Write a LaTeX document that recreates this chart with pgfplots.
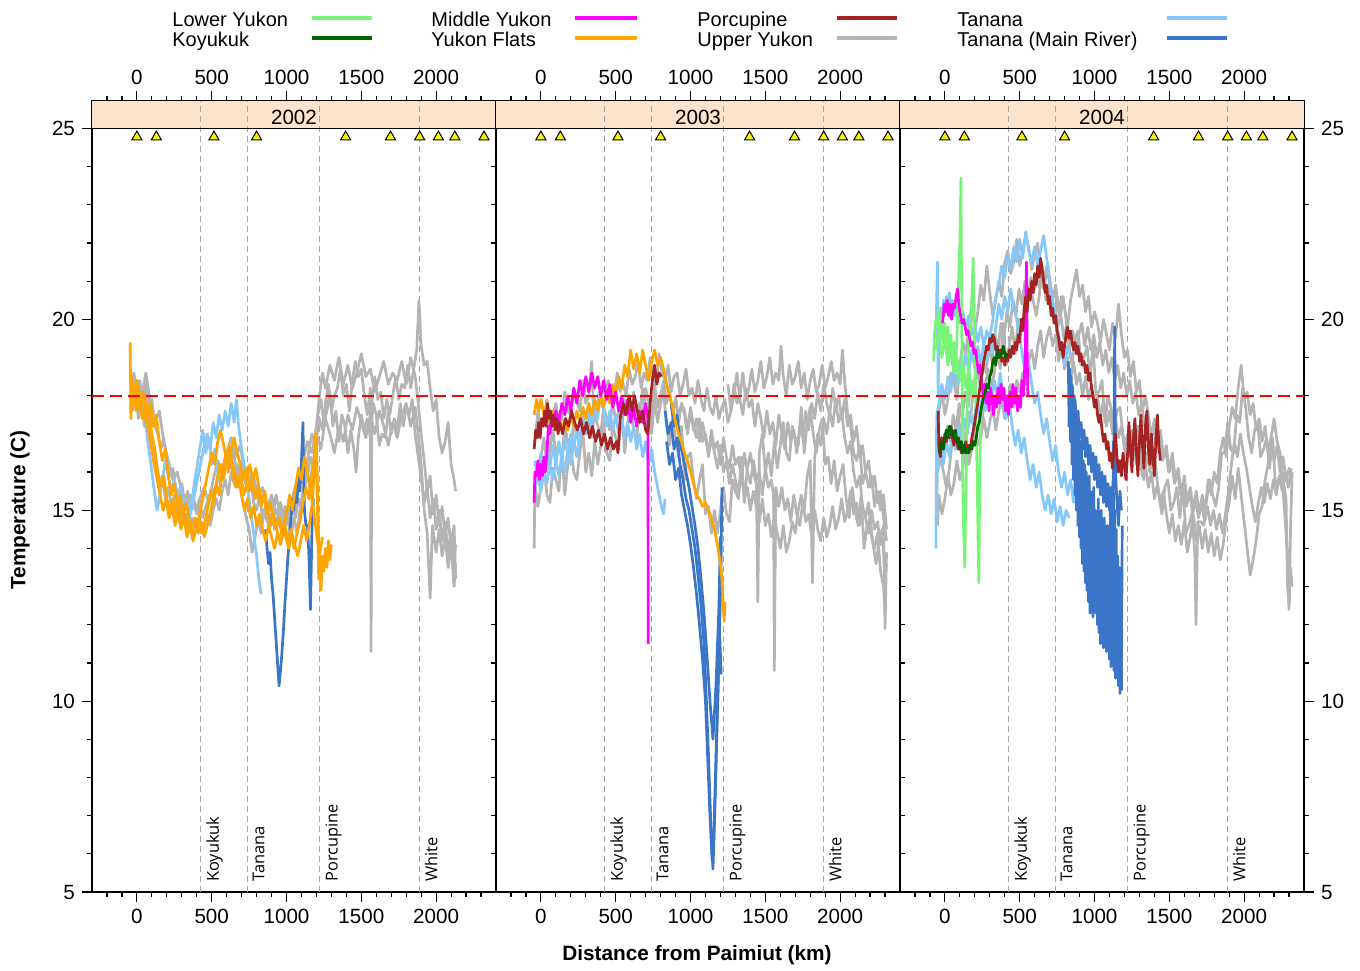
\documentclass[border=0pt]{standalone}
\usepackage{pgfplots}
\pgfplotsset{compat=1.18}
\usepackage{fontspec}
\setmainfont{Liberation Sans}
\newfontfamily\tribfont{Open Sans}
\definecolor{lowyukon}{RGB}{120,245,120}
\definecolor{koyukuk}{RGB}{0,100,0}
\definecolor{midyukon}{RGB}{255,0,255}
\definecolor{yflats}{RGB}{255,165,0}
\definecolor{porc}{RGB}{165,35,35}
\definecolor{upyukon}{RGB}{180,180,180}
\definecolor{tanana}{RGB}{135,200,250}
\definecolor{tanmain}{RGB}{58,117,200}
\definecolor{stripfill}{RGB}{252,228,204}
\definecolor{tribgray}{RGB}{165,165,165}
\tikzset{
 dl/.style={line width=1.35pt, line join=round},
 gy/.style={dl, color=upyukon},
 lb/.style={dl, color=tanana},
 db/.style={dl, color=tanmain},
 og/.style={dl, color=yflats},
 mg/.style={dl, color=midyukon},
 lg/.style={dl, color=lowyukon},
 pr/.style={dl, color=porc},
 kg/.style={dl, color=koyukuk},
}
\newcommand\tickfont{\fontsize{10.3}{12}\selectfont}
\pgfplotsset{
 panel/.style={
  anchor=south west, scale only axis, width=202pt, height=395.5pt,
  xmin=-300, xmax=2400, ymin=5, ymax=25.72,
  xtick={0,500,1000,1500,2000}, xticklabels={0,500,1000,1500,2000},
  minor xtick={-200,-100,...,2300},
  ytick={5,10,15,20,25}, yticklabels={5,10,15,20,25},
  minor ytick={6,...,24},
  tick align=outside, xtick pos=both, xticklabel pos=lower,
  major tick length=5pt, minor tick length=2.5pt,
  axis line style={line width=0.8pt},
  every tick/.style={black, line width=0.6pt},
  tick label style={font=\tickfont},
 },
 toplab/.style={
  anchor=south west, scale only axis, width=202pt, height=395.5pt,
  xmin=-300, xmax=2400, ymin=5, ymax=25.72,
  xtick={0,500,1000,1500,2000}, xticklabels={0,500,1000,1500,2000},
  xticklabel pos=upper, ytick=\empty, axis line style={draw=none},
  major tick length=0pt, minor tick num=0,
  tick label style={font=\tickfont},
  xticklabel style={yshift=4.5pt},
 },
}
\newcommand\trib[2]{\node[rotate=90, anchor=north west, inner sep=0pt, font=\tribfont\fontsize{8.2}{9}\selectfont] at ([xshift=2.6pt]axis cs:#1,5.26) {#2};}
\newcommand\panelbg[1]{%
 \fill[stripfill] (axis cs:-300,25) rectangle (axis cs:2400,25.72);
 \node[font=\tickfont] at (axis cs:1050,25.29) {#1};
 \addplot[tribgray, line width=0.5pt, dash pattern=on 3pt off 2pt] coordinates {(427,5) (427,25.72)};
 \addplot[tribgray, line width=0.5pt, dash pattern=on 3pt off 2pt] coordinates {(737,5) (737,25.72)};
 \addplot[tribgray, line width=0.5pt, dash pattern=on 3pt off 2pt] coordinates {(1223,5) (1223,25.72)};
 \addplot[tribgray, line width=0.5pt, dash pattern=on 3pt off 2pt] coordinates {(1887,5) (1887,25.72)};
 \draw[black, line width=0.8pt] (axis cs:-300,25) -- (axis cs:2400,25);
 \trib{427}{Koyukuk}\trib{737}{Tanana}\trib{1223}{Porcupine}\trib{1887}{White}
 \addplot[only marks, mark=triangle*, mark size=2.9pt, mark options={fill=yellow, draw=black, line width=0.5pt}] coordinates {(0,24.78) (130,24.78) (515,24.78) (800,24.78) (1395,24.78) (1695,24.78) (1890,24.78) (2015,24.78) (2125,24.78) (2320,24.78)};
}
\newcommand\redline{\addplot[red, line width=1pt, dash pattern=on 6pt off 3pt] coordinates {(-300,18) (2400,18)};}
\begin{document}
\begin{tikzpicture}
\useasboundingbox (0,0) rectangle (680pt,-485pt);
% ================= 2002 =================
\begin{axis}[panel, at={(46pt,-446pt)}, ytick pos=left]
\panelbg{2002}
\addplot[gy] coordinates {(-40,18.2) (-20,18.6) (0,18.0) (20,18.4) (40,17.8) (60,18.3) (80,17.6) (100,17.9) (120,17.2) (140,17.0) (160,16.6) (180,16.9) (200,16.2) (220,15.9) (240,16.1) (260,15.6) (280,15.4) (300,15.7) (320,15.2) (340,15.5) (360,15.0) (380,15.3) (400,14.9) (420,15.2) (440,14.8) (460,15.1) (480,15.3) (500,15.6) (520,15.4) (540,15.9) (560,16.2) (580,15.8) (600,16.4) (620,16.1) (640,16.6) (660,16.2) (680,15.9) (700,16.3) (720,15.8) (740,15.5) (760,15.9) (780,15.2) (800,15.0) (820,15.4) (840,14.8) (860,15.1) (880,14.6) (900,14.9) (920,14.5) (940,14.8) (960,15.2) (980,14.7) (1000,15.0) (1020,14.6) (1040,15.1) (1060,14.8) (1080,15.3) (1100,15.0) (1120,15.6) (1140,15.9) (1160,16.4) (1180,16.1) (1200,16.9) (1220,17.4) (1240,17.1) (1260,17.8) (1280,18.3) (1300,17.6) (1320,18.0) (1340,18.2) (1360,18.7) (1380,18.0) (1400,18.3) (1420,17.6) (1440,18.4) (1460,18.9) (1480,18.5) (1500,18.7) (1520,18.0) (1540,17.5) (1560,18.2) (1565,11.3) (1570,17.8) (1590,18.5) (1610,17.9) (1630,18.1) (1650,17.4) (1670,17.9) (1690,17.5) (1710,18.0) (1730,18.5) (1750,17.9) (1770,18.3) (1790,18.2) (1810,18.8) (1830,18.2) (1850,18.7) (1870,19.2) (1885,20.5) (1900,19.3) (1920,18.8) (1940,18.9) (1960,18.2) (1980,17.6) (2000,17.9) (2020,16.9) (2040,16.5) (2060,16.8) (2080,17.3) (2100,16.2) (2120,15.8) (2130,15.5)};
\addplot[gy] coordinates {(-30,17.6) (-10,18.1) (10,17.4) (30,17.9) (50,17.2) (70,17.6) (90,16.9) (110,16.5) (130,16.0) (150,15.6) (170,15.9) (190,15.3) (210,15.6) (230,15.1) (250,15.4) (270,14.9) (290,15.2) (310,14.7) (330,14.9) (350,14.6) (370,14.8) (390,14.5) (410,14.7) (430,14.4) (450,14.6) (470,14.9) (490,14.6) (510,15.0) (530,15.3) (550,15.0) (570,15.5) (590,15.8) (610,15.4) (630,16.0) (650,15.7) (670,16.2) (690,15.6) (710,15.2) (730,14.8) (750,14.5) (770,13.9) (790,14.3) (810,14.8) (830,14.4) (850,15.0) (870,14.7) (890,15.3) (910,14.9) (930,15.4) (950,15.0) (970,14.6) (990,15.1) (1010,14.7) (1030,14.3) (1050,14.8) (1070,14.4) (1090,15.0) (1110,15.5) (1130,16.0) (1150,16.6) (1170,17.0) (1190,16.7) (1210,17.5) (1230,17.9) (1250,17.3) (1270,17.6) (1290,18.1) (1310,17.2) (1330,17.6) (1350,16.8) (1370,17.5) (1390,17.2) (1410,16.5) (1430,17.1) (1450,16.6) (1465,16.0) (1480,16.9) (1500,17.5) (1520,17.1) (1540,17.4) (1560,16.9) (1580,17.8) (1600,17.5) (1620,16.7) (1640,17.0) (1660,16.9) (1680,17.6) (1700,17.0) (1720,17.4) (1740,17.1) (1760,17.8) (1780,17.2) (1800,17.7) (1820,17.5) (1840,17.9) (1860,17.0) (1880,16.4) (1900,15.8) (1920,15.2) (1940,15.6) (1960,14.8) (1980,15.3) (2000,14.5) (2020,15.0) (2040,14.2) (2060,14.7) (2080,13.9) (2100,14.4) (2120,13.6) (2130,14.1)};
\addplot[gy] coordinates {(0,18.4) (30,17.9) (60,18.6) (90,17.8) (120,17.3) (150,17.6) (180,16.8) (210,16.3) (240,15.8) (270,16.0) (300,15.5) (330,15.1) (360,15.4) (390,15.0) (420,15.3) (450,15.6) (480,15.2) (510,15.8) (540,16.3) (570,16.0) (600,16.5) (630,16.9) (660,16.4) (690,16.7) (720,16.0) (750,15.6) (780,15.9) (810,15.3) (840,15.6) (870,15.0) (900,15.4) (930,14.9) (960,15.2) (990,14.6) (1020,15.0) (1050,15.5) (1080,15.9) (1110,16.3) (1140,16.8) (1170,16.5) (1200,17.2) (1220,18.0) (1240,18.6) (1260,18.2) (1290,18.8) (1320,18.4) (1350,19.0) (1380,18.3) (1410,18.8) (1440,18.2) (1470,18.6) (1500,19.1) (1530,18.5) (1560,18.7) (1590,18.1) (1620,18.5) (1650,18.9) (1680,18.3) (1710,18.6) (1740,18.4) (1770,18.9) (1800,18.3) (1830,19.0) (1860,18.5) (1880,17.8) (1900,17.0) (1920,16.3) (1940,15.5) (1960,15.9) (1980,14.9) (2000,15.4) (2020,14.6) (2040,15.1) (2060,14.3) (2080,14.8) (2100,14.0) (2120,14.6) (2130,13.2)};
\addplot[gy] coordinates {(1150,15.6) (1180,16.3) (1200,17.0) (1230,16.6) (1260,17.4) (1290,17.0) (1320,16.5) (1350,17.2) (1380,16.8) (1410,17.5) (1440,17.1) (1470,17.7) (1500,17.3) (1530,16.9) (1560,17.5) (1590,17.0) (1620,17.6) (1650,17.2) (1680,16.7) (1710,17.3) (1740,16.9) (1770,17.5) (1800,17.8) (1830,17.2) (1860,17.7) (1880,17.0) (1900,16.2) (1920,15.0) (1940,14.4) (1960,12.7) (1975,14.6) (2000,13.9) (2020,14.5) (2040,13.8) (2060,14.3) (2080,13.5) (2100,14.1) (2120,13.0) (2130,13.6)};
\addplot[lb] coordinates {(-40,18.3) (-20,17.8) (0,18.1) (20,17.5) (40,17.8) (60,17.2) (80,16.6) (100,16.0) (120,15.4) (135,15.0) (150,15.3) (170,15.8) (190,16.3) (210,15.9) (230,15.5) (250,15.8) (270,15.3) (290,15.6) (310,15.0) (330,15.3) (350,14.8) (370,15.1) (390,15.5) (410,15.9) (430,16.3) (450,16.7) (470,17.0) (490,16.6) (510,17.3) (530,16.9) (550,17.5) (570,17.1) (590,17.6) (610,17.2) (630,17.8) (650,17.3) (665,17.9) (680,17.2) (700,16.6) (720,16.1) (740,15.6) (760,15.0) (780,14.4) (800,13.8) (815,13.2) (830,12.8)};
\addplot[lb] coordinates {(360,15.0) (380,15.6) (400,16.1) (420,16.6) (440,17.1) (460,16.5) (480,16.9) (500,16.2) (520,16.6) (540,16.0) (560,15.6)};
\addplot[db] coordinates {(860,14.5) (870,14.0) (880,13.6) (890,13.9) (900,13.2) (910,12.8) (920,12.2) (930,11.6) (940,11.0) (950,10.4) (960,10.8) (970,11.3) (980,11.9) (990,12.6) (1000,13.2) (1010,13.8) (1020,14.3) (1030,14.8) (1040,15.3) (1050,15.0) (1060,15.6) (1070,15.2) (1080,16.0) (1090,15.5) (1100,16.3) (1110,17.3) (1115,15.8) (1120,15.0) (1130,14.6) (1140,14.6) (1150,13.8) (1160,12.4) (1170,14.5) (1180,15.3)};
\addplot[og] coordinates {(-45,19.4) (-40,17.4) (-30,18.3) (-10,17.8) (10,18.2) (30,17.7) (50,18.0) (70,17.5) (90,17.8) (110,17.2) (130,17.5) (150,16.8) (170,16.3) (190,16.6) (210,15.9) (230,15.4) (250,15.7) (270,15.1) (290,15.4) (310,14.9) (330,15.2) (350,14.7) (370,14.5) (390,14.8) (410,14.4) (430,14.7) (450,14.3) (470,14.6) (490,14.9) (510,15.3) (530,15.7) (550,15.4) (570,16.0) (590,16.4) (610,16.0) (630,16.6) (650,16.9) (670,16.5) (690,16.2) (710,15.8) (730,16.1) (750,15.5) (770,15.8) (790,15.3) (810,15.6) (830,15.1) (850,15.4) (870,14.9) (890,15.2) (910,14.8) (930,14.5) (950,14.8) (970,14.3) (990,14.6) (1010,14.2) (1030,14.5) (1050,14.0) (1070,14.4) (1090,14.7) (1110,15.2) (1130,15.6) (1150,15.3) (1170,15.9) (1190,16.5) (1200,16.9) (1210,15.0) (1220,13.5) (1230,12.9) (1240,13.8) (1250,13.4) (1260,14.0) (1270,13.5) (1280,14.2) (1290,13.7) (1300,14.1)};
\addplot[og] coordinates {(-40,18.6) (-20,17.9) (0,18.4) (20,17.6) (40,18.1) (60,17.3) (80,17.7) (100,17.0) (120,16.6) (140,16.0) (160,15.6) (180,15.9) (200,15.3) (220,15.0) (240,15.3) (260,14.8) (280,15.1) (300,14.6) (320,14.9) (340,14.4) (360,14.7) (380,14.3) (400,14.6) (420,14.9) (440,15.3) (460,15.7) (480,16.1) (500,16.5) (520,16.2) (540,16.8) (560,17.1) (580,16.7) (600,16.3) (620,16.6) (640,16.0) (660,15.6) (680,15.9) (700,15.4) (720,15.0) (740,15.3) (760,14.8) (780,15.1) (800,14.6) (820,14.9) (840,14.5) (860,14.2) (880,14.6) (900,14.3) (920,14.0) (940,14.4) (960,14.1) (980,14.5) (1000,14.9) (1020,15.4) (1040,15.0) (1060,15.6) (1080,16.1) (1100,15.8) (1120,16.4) (1140,16.0) (1160,15.5) (1180,15.0) (1200,14.4) (1220,13.8) (1240,14.3)};
\addplot[og] coordinates {(-45,17.9) (-25,18.3) (-5,17.6) (15,18.0) (35,17.4) (55,17.7) (75,17.1) (95,16.7) (115,16.2) (135,15.8) (155,15.4) (175,15.0) (195,15.3) (215,14.8) (235,15.1) (255,14.6) (275,14.9) (295,14.5) (315,14.8) (335,14.3) (355,14.6) (375,14.2) (395,14.5) (415,14.8) (435,14.4) (455,14.7) (475,15.1) (495,15.5) (515,15.2) (535,15.8) (555,16.2) (575,15.8) (595,16.3) (615,16.7) (635,16.3) (655,16.0) (675,15.6) (695,15.9) (715,15.4) (735,15.7) (755,16.2) (775,15.8) (795,16.1) (815,15.6) (835,15.2) (855,15.5) (875,15.0) (895,14.6) (915,14.9) (935,14.5) (955,14.2) (975,14.6) (995,14.3) (1015,14.0) (1035,14.4) (1055,14.1) (1075,13.8) (1095,14.2) (1115,14.6) (1135,14.2) (1155,14.7) (1175,15.3) (1195,17.0) (1205,15.5) (1215,13.2) (1230,13.8)};
\redline
\end{axis}
\begin{axis}[toplab, at={(46pt,-446pt)}]
\end{axis}
% ================= 2003 =================
\begin{axis}[panel, at={(248pt,-446pt)}, ymajorticks=false, yminorticks=false]
\panelbg{2003}
\addplot[gy] coordinates {(-40,16.8) (-20,17.6) (0,17.2) (20,17.4) (40,17.9) (60,17.1) (80,17.5) (100,17.8) (120,17.3) (140,17.4) (160,18.1) (180,17.6) (200,17.5) (220,18.2) (240,17.9) (260,17.6) (280,18.4) (300,17.8) (320,18.0) (340,18.9) (350,17.8) (370,17.5) (390,18.1) (410,17.7) (430,17.9) (450,18.4) (470,17.8) (490,18.0) (510,18.6) (530,18.1) (550,18.3) (570,18.0) (590,18.7) (610,18.3) (630,18.5) (650,18.9) (670,18.2) (690,18.6) (710,18.4) (730,19.0) (750,18.5) (770,18.3) (790,19.1) (810,18.6) (830,18.4) (850,18.8) (870,18.1) (890,18.5) (910,18.6) (930,18.0) (950,18.3) (970,18.7) (990,18.0) (1010,18.2) (1030,17.8) (1050,18.4) (1070,17.9) (1090,17.6) (1110,18.2) (1130,17.7) (1150,17.5) (1170,18.0) (1190,17.4) (1210,17.7) (1230,17.9) (1250,17.3) (1270,17.6) (1290,18.3) (1310,17.8) (1330,18.0) (1350,18.6) (1370,17.9) (1390,18.2) (1410,18.7) (1430,18.1) (1450,18.4) (1470,18.9) (1490,18.2) (1510,18.5) (1530,19.0) (1550,18.3) (1570,18.6) (1590,18.4) (1605,19.3) (1620,18.5) (1640,18.0) (1660,18.8) (1680,18.3) (1700,18.5) (1720,18.9) (1740,18.2) (1760,18.6) (1780,17.9) (1800,18.4) (1820,18.7) (1840,18.1) (1860,18.3) (1880,18.8) (1900,18.2) (1920,18.5) (1940,18.9) (1960,18.4) (1980,18.6) (2000,18.3) (2015,19.2) (2030,18.4) (2050,17.5) (2070,17.2) (2090,16.5) (2110,16.3) (2130,16.7) (2150,15.7) (2170,16.0) (2190,15.6) (2210,15.9) (2230,15.1) (2250,15.5) (2270,15.0) (2290,15.4) (2310,14.5)};
\addplot[gy] coordinates {(-45,14.0) (-40,15.7) (-20,15.1) (0,15.6) (20,16.2) (40,15.4) (60,15.2) (80,16.1) (100,15.8) (120,15.5) (140,16.6) (160,15.4) (180,16.2) (200,16.6) (220,16.0) (240,15.8) (260,16.5) (280,17.1) (300,16.0) (320,16.5) (340,15.9) (360,16.8) (380,16.2) (400,16.7) (420,17.3) (440,16.5) (460,16.3) (480,17.2) (500,16.9) (520,16.6) (540,17.7) (560,16.5) (580,17.3) (600,17.7) (620,17.1) (640,16.9) (660,17.6) (680,18.2) (700,17.1) (720,17.6) (740,17.0) (760,17.9) (780,17.3) (800,17.8) (820,18.1) (840,17.2) (860,16.7) (880,17.4) (900,16.9) (920,16.4) (940,17.2) (960,15.8) (980,16.4) (1000,16.5) (1020,15.8) (1040,15.3) (1060,15.8) (1080,16.2) (1100,14.9) (1120,15.1) (1140,14.4) (1160,15.0) (1180,14.4) (1200,15.0) (1220,15.6) (1240,14.9) (1260,14.7) (1280,15.8) (1300,15.5) (1320,15.3) (1340,16.4) (1360,15.2) (1380,16.1) (1400,16.5) (1420,16.0) (1440,15.7) (1450,12.6) (1460,16.5) (1480,17.0) (1500,16.0) (1520,16.5) (1540,15.9) (1560,16.8) (1580,16.1) (1600,16.7) (1620,17.3) (1640,16.5) (1660,16.3) (1680,17.2) (1700,16.9) (1720,16.7) (1740,17.7) (1760,16.5) (1780,17.3) (1800,17.7) (1820,17.0) (1840,16.5) (1860,17.1) (1880,17.4) (1900,16.2) (1920,16.4) (1940,15.7) (1960,16.3) (1980,15.5) (2000,15.9) (2020,16.2) (2040,15.3) (2060,14.8) (2080,15.6) (2100,15.0) (2120,14.6) (2140,15.4) (2160,14.0) (2180,14.6) (2200,14.8) (2220,14.1) (2240,13.6) (2260,14.2) (2280,14.5) (2300,13.3) (2310,13.6)};
\addplot[gy] coordinates {(0,16.4) (20,16.9) (40,16.2) (60,16.6) (80,17.1) (100,16.5) (120,16.7) (140,16.4) (160,17.2) (180,16.8) (200,16.6) (220,17.3) (240,17.0) (260,16.7) (280,17.5) (300,17.1) (320,17.3) (340,16.9) (360,17.6) (380,17.2) (400,17.0) (420,17.7) (440,17.4) (460,17.1) (480,17.9) (500,17.3) (520,17.6) (540,17.2) (560,17.9) (580,17.5) (600,17.3) (620,18.1) (640,17.6) (660,17.8) (680,17.4) (700,18.2) (720,17.8) (740,17.5) (760,18.3) (780,17.7) (800,18.0) (820,18.4) (840,17.8) (860,18.1) (880,17.6) (900,17.9) (920,17.3) (940,17.8) (960,17.5) (980,17.0) (1000,17.6) (1020,17.1) (1040,17.4) (1060,16.8) (1080,17.3) (1100,16.9) (1120,16.5) (1140,17.1) (1160,16.6) (1180,16.8) (1200,16.2) (1220,16.9) (1240,16.4) (1260,16.1) (1280,16.7) (1300,16.2) (1320,16.4) (1340,15.8) (1360,16.5) (1380,16.0) (1400,15.7) (1420,16.3) (1440,15.8) (1460,16.0) (1480,15.4) (1500,16.1) (1520,15.6) (1540,15.8) (1555,15.4) (1560,10.8) (1570,15.6) (1590,15.1) (1610,15.6) (1630,15.0) (1650,15.3) (1670,14.7) (1690,15.4) (1710,14.9) (1730,14.6) (1750,15.2) (1770,14.7) (1790,14.9) (1810,14.3) (1830,15.0) (1850,14.5) (1870,14.2) (1890,14.8) (1910,14.3) (1930,14.6) (1950,15.1) (1970,14.5) (1990,14.8) (2010,15.3) (2030,14.7) (2050,15.0) (2070,15.5) (2090,14.9) (2110,15.2) (2130,14.6) (2150,15.1) (2170,14.8) (2190,14.4) (2210,15.0) (2230,14.5) (2250,14.7) (2270,14.1) (2290,14.6) (2300,11.9) (2310,13.9)};
\addplot[gy] coordinates {(900,18.0) (920,17.4) (940,17.8) (960,17.6) (980,17.1) (1000,17.7) (1020,17.2) (1040,16.9) (1060,17.4) (1080,16.8) (1100,17.0) (1120,16.4) (1140,16.9) (1160,16.5) (1180,16.1) (1200,16.7) (1220,16.0) (1240,16.3) (1260,15.7) (1280,16.2) (1300,15.8) (1320,15.4) (1340,16.0) (1360,15.3) (1380,15.6) (1400,15.0) (1420,15.5) (1440,15.1) (1460,14.7) (1480,15.3) (1500,14.6) (1520,14.9) (1540,14.3) (1560,14.8) (1580,14.4) (1600,14.0) (1620,14.6) (1640,13.9) (1660,14.2) (1680,14.7) (1700,14.4) (1720,15.0) (1740,15.4) (1760,15.0) (1780,15.9) (1800,16.3) (1815,13.1) (1830,16.4) (1850,17.0) (1870,16.7) (1890,17.4) (1910,17.0) (1930,17.6) (1950,17.2) (1970,17.9) (1990,17.3) (2010,17.6) (2030,16.9) (2050,16.5) (2070,16.8) (2090,16.0) (2110,15.6) (2130,15.9) (2150,15.1) (2170,14.8) (2190,15.2) (2210,14.3) (2230,14.0) (2250,14.4) (2270,13.4) (2290,13.0) (2300,12.4)};
\addplot[gy] coordinates {(1250,18.3) (1270,17.6) (1290,18.0) (1310,18.6) (1330,17.9) (1350,17.5) (1370,18.2) (1390,17.7) (1410,17.9) (1430,17.2) (1450,17.8) (1470,17.4) (1490,16.9) (1510,17.6) (1530,17.0) (1550,17.3) (1570,16.7) (1590,17.5) (1610,17.0) (1630,16.6) (1650,17.3) (1670,16.8) (1690,17.1) (1710,16.5) (1730,17.2) (1750,16.9) (1770,17.6) (1790,17.1) (1810,17.8) (1830,17.4) (1850,18.1) (1870,17.6) (1890,18.3) (1910,17.8) (1930,17.5) (1950,18.2) (1970,17.7) (1990,18.0) (2010,17.4) (2030,17.9) (2050,17.2) (2070,17.5) (2090,16.8) (2110,17.2) (2130,16.4) (2150,16.7) (2170,16.0) (2190,16.3) (2210,15.6) (2230,15.9) (2250,15.2) (2270,15.5) (2290,14.8) (2310,14.2)};
\addplot[lb] coordinates {(-40,16.3) (-20,15.8) (0,16.5) (20,16.0) (40,16.6) (60,16.1) (80,16.7) (100,16.2) (120,16.8) (140,16.3) (160,16.9) (180,16.4) (200,17.0) (220,16.6) (240,17.2) (260,16.8) (280,17.4) (300,17.0) (320,17.6) (340,17.2) (360,17.8) (380,17.4) (400,18.2) (420,17.6) (440,17.2) (460,17.6) (480,17.1) (500,17.5) (520,17.0) (540,17.4) (560,16.9) (580,17.3) (600,16.8) (620,17.2) (640,16.6) (660,17.0) (680,16.4) (700,16.8) (720,16.2) (740,16.6) (760,16.0) (780,15.6) (800,15.2) (820,14.9) (830,15.3)};
\addplot[lb] coordinates {(-40,15.6) (-20,15.9) (0,15.5) (20,16.0) (40,15.7) (60,16.2) (80,15.8) (100,16.3) (120,15.9) (140,16.4) (160,16.0) (180,16.6) (200,16.2) (220,16.8) (240,16.4) (260,17.0)};
\addplot[db] coordinates {(830,17.6) (850,17.0) (870,17.3) (890,16.6) (910,16.9) (930,16.2) (950,15.8) (970,15.3) (990,15.0) (1010,14.5) (1030,14.0) (1050,13.3) (1070,12.5) (1090,11.5) (1100,10.6) (1110,9.6) (1120,8.6) (1130,7.4) (1140,6.3) (1150,5.6) (1160,6.8) (1170,8.2) (1180,9.8) (1190,11.2) (1200,12.8) (1205,14.0) (1210,15.6)};
\addplot[db] coordinates {(840,16.8) (860,16.2) (880,16.5) (900,15.8) (920,16.1) (940,15.4) (960,15.0) (980,14.6) (1000,14.1) (1020,13.5) (1040,12.8) (1060,12.0) (1080,11.1) (1100,10.0) (1110,9.0) (1120,8.0) (1130,7.0) (1140,6.2) (1145,5.8) (1155,6.5) (1165,7.8) (1175,9.2) (1185,10.5) (1195,11.7) (1205,10.7)};
\addplot[db] coordinates {(870,17.8) (890,17.2) (910,17.5) (930,16.8) (950,16.4) (970,16.0) (990,15.6) (1010,15.1) (1030,14.6) (1050,14.0) (1070,13.2) (1090,12.3) (1110,11.2) (1130,10.0) (1150,9.0) (1170,10.4) (1190,12.5) (1200,14.3) (1205,12.9)};
\addplot[og] coordinates {(-45,17.5) (-30,17.9) (-15,17.6) (0,17.9) (20,17.5) (40,17.8) (60,17.3) (80,17.6) (100,17.2) (120,17.5) (140,17.1) (160,17.4) (180,17.1) (200,17.5) (220,17.2) (240,17.6) (260,17.3) (280,17.7) (300,17.4) (320,17.8) (340,17.5) (360,17.9) (380,17.6) (400,18.0) (420,17.7) (440,18.1) (460,17.8) (480,18.3) (500,18.0) (520,18.5) (540,18.2) (560,18.8) (580,18.5) (600,19.2) (620,18.7) (640,19.1) (660,18.6) (680,19.2) (700,18.8) (720,18.4) (740,18.9) (760,19.2) (780,18.8) (800,19.0) (820,18.7) (840,18.3) (860,18.0) (880,17.7) (900,17.3) (920,17.0) (940,16.8) (960,16.5) (980,16.3) (1000,16.0) (1020,15.7) (1040,15.4) (1060,15.3) (1080,15.1) (1100,15.2) (1120,15.0) (1140,14.8) (1160,14.5) (1180,14.1) (1200,13.6) (1210,13.2) (1220,12.4) (1225,12.1) (1230,12.6)};
\addplot[mg] coordinates {(-45,15.2) (-40,16.0) (-30,15.9) (-20,16.3) (-10,15.8) (0,16.2) (10,15.9) (20,16.4) (30,16.0) (40,16.5) (50,17.2) (60,17.0) (70,17.4) (80,17.2) (100,17.6) (120,17.3) (140,17.8) (160,17.5) (180,18.0) (200,17.6) (220,18.2) (240,17.8) (260,18.4) (280,18.0) (300,18.5) (320,18.1) (340,18.6) (360,18.2) (380,18.5) (400,18.0) (420,18.4) (440,17.9) (460,18.3) (480,17.7) (500,18.1) (520,17.6) (540,18.0) (560,17.5) (580,17.9) (600,17.3) (620,17.7) (640,17.2) (660,17.6) (680,17.3) (700,17.8) (715,17.4) (718,11.5)};
\addplot[pr] coordinates {(-45,16.6) (-35,17.1) (-25,16.9) (-15,17.3) (-5,16.9) (5,17.4) (15,17.2) (25,17.6) (35,17.2) (45,17.8) (55,17.4) (65,17.6) (75,17.2) (85,17.5) (95,17.1) (105,17.4) (115,17.0) (125,17.3) (145,17.0) (165,17.4) (185,17.2) (205,17.6) (225,17.3) (245,17.1) (265,17.4) (285,17.0) (305,17.3) (325,16.9) (345,17.2) (365,16.8) (385,17.1) (405,16.7) (425,17.0) (445,16.6) (465,16.9) (485,16.6) (505,16.8) (515,16.5) (530,17.4) (550,17.8) (570,17.5) (590,18.0) (610,17.6) (625,18.0) (640,17.7) (660,17.3) (680,17.6) (700,17.1) (715,17.0) (730,17.8) (745,18.4) (760,18.8) (775,18.3) (790,18.6) (805,18.5)};
\redline
\end{axis}
\begin{axis}[toplab, at={(248pt,-446pt)}]
\end{axis}
% ================= 2004 =================
\begin{axis}[panel, at={(450pt,-446pt)}, ytick pos=right, yticklabel pos=right]
\panelbg{2004}
\addplot[gy] coordinates {(-55,17.0) (-40,17.6) (-20,18.1) (0,17.5) (20,17.9) (40,18.6) (60,18.4) (80,17.9) (100,18.8) (120,19.4) (140,19.1) (160,19.8) (180,20.4) (200,19.7) (220,20.2) (240,20.9) (260,20.5) (280,21.4) (300,20.7) (320,20.1) (340,20.5) (360,21.0) (380,20.6) (400,21.5) (420,21.8) (440,21.2) (460,21.5) (480,22.1) (500,21.4) (520,21.8) (540,22.2) (560,21.9) (580,21.3) (600,21.7) (620,22.0) (640,21.2) (660,20.8) (680,21.4) (700,21.1) (720,20.5) (740,20.9) (760,20.2) (780,20.6) (800,20.3) (820,19.8) (840,20.5) (860,20.9) (880,21.3) (900,20.6) (920,20.9) (940,20.2) (960,20.6) (980,19.8) (1000,20.2) (1020,19.9) (1040,19.4) (1060,20.0) (1080,19.6) (1100,19.2) (1120,19.9) (1140,19.5) (1160,20.4) (1180,19.6) (1200,19.0) (1220,19.2) (1240,18.5) (1260,18.9) (1280,18.1) (1300,18.4) (1320,17.6) (1340,18.0) (1360,17.5) (1380,16.9) (1400,17.4) (1420,16.8) (1440,17.1) (1460,16.4) (1480,16.7) (1500,16.0) (1520,16.5) (1540,15.8) (1560,16.1) (1580,15.4) (1600,15.9) (1620,15.2) (1640,15.6) (1660,15.0) (1680,15.5) (1700,14.9) (1720,15.4) (1740,15.0) (1760,15.8) (1780,15.4) (1800,16.0) (1820,15.7) (1840,16.5) (1860,16.9) (1880,16.4) (1900,17.2) (1920,17.7) (1940,17.4) (1960,18.2) (1980,18.8) (2000,17.9) (2020,18.1) (2040,17.5) (2060,17.8) (2080,17.1) (2100,17.4) (2120,16.8) (2140,17.2) (2160,16.5) (2180,16.9) (2200,16.3) (2220,16.7) (2240,16.0) (2260,16.4) (2280,15.8) (2300,16.1) (2320,15.7)};
\addplot[gy] coordinates {(-55,15.2) (-50,16.0) (-30,16.4) (-10,16.0) (10,15.6) (30,16.1) (50,16.9) (70,16.8) (90,17.5) (110,16.8) (130,16.6) (150,17.6) (170,17.3) (190,18.2) (210,17.9) (230,17.5) (250,17.3) (270,18.3) (290,18.7) (310,18.2) (330,18.6) (350,19.3) (370,18.7) (390,19.9) (410,18.8) (430,19.3) (450,19.8) (470,19.1) (490,20.0) (510,20.0) (530,19.8) (550,20.5) (570,20.9) (590,20.5) (610,20.1) (630,20.6) (650,21.4) (670,21.0) (690,21.4) (710,20.4) (730,19.9) (750,20.6) (770,20.0) (790,20.6) (810,20.0) (830,19.3) (850,18.8) (870,19.5) (890,19.7) (910,18.8) (930,19.0) (950,19.3) (970,18.5) (990,19.3) (1010,18.0) (1030,18.1) (1050,18.4) (1070,17.3) (1090,18.0) (1110,17.7) (1130,17.2) (1150,17.6) (1170,17.7) (1190,17.0) (1210,16.4) (1230,16.5) (1250,17.1) (1270,16.7) (1290,17.2) (1310,16.2) (1330,15.8) (1350,16.5) (1370,16.0) (1390,16.6) (1410,16.1) (1430,15.4) (1450,14.9) (1470,15.6) (1490,15.8) (1510,15.0) (1530,15.2) (1550,15.6) (1570,14.8) (1590,15.7) (1610,14.4) (1630,14.6) (1650,14.9) (1670,13.9) (1678,12.0) (1690,14.7) (1710,14.7) (1730,14.6) (1750,15.3) (1770,15.8) (1790,15.4) (1810,15.1) (1830,15.6) (1850,16.5) (1870,16.5) (1890,17.3) (1910,16.6) (1930,16.5) (1950,17.5) (1970,17.3) (1990,18.2) (2010,17.7) (2030,16.9) (2050,16.5) (2070,17.1) (2090,17.3) (2110,16.4) (2130,16.6) (2150,16.9) (2170,16.1) (2190,16.9) (2210,15.6) (2230,15.8) (2250,16.0) (2270,15.0) (2290,13.8) (2300,12.4) (2310,14.5) (2320,16.0)};
\addplot[gy] coordinates {(-50,14.6) (-40,15.4) (-20,14.9) (0,15.3) (20,15.9) (40,15.4) (60,15.7) (80,16.3) (100,15.8) (120,16.1) (140,16.7) (160,16.2) (180,16.6) (200,17.2) (220,16.7) (240,16.9) (260,17.4) (280,16.9) (300,17.3) (320,17.7) (340,17.1) (360,17.6) (380,17.9) (400,17.4) (420,17.8) (440,18.3) (460,17.7) (480,18.4) (500,18.1) (520,18.6) (540,18.3) (560,18.9) (580,19.2) (600,18.7) (620,19.3) (640,19.7) (660,19.0) (680,19.5) (700,19.8) (720,19.3) (740,19.6) (760,18.9) (780,19.4) (800,18.7) (820,19.0) (840,18.4) (860,18.9) (880,18.3) (900,18.6) (920,18.0) (940,18.5) (960,17.9) (980,18.3) (1000,17.7) (1020,18.0) (1040,17.4) (1060,17.9) (1080,17.2) (1100,17.6) (1120,17.0) (1140,17.4) (1160,16.9) (1180,17.2) (1200,16.6) (1220,17.0) (1240,16.4) (1260,16.8) (1280,16.2) (1300,16.5) (1320,15.9) (1340,16.2) (1360,15.6) (1380,16.0) (1400,15.3) (1420,15.7) (1440,15.2) (1460,15.5) (1480,14.9) (1500,14.4) (1520,14.9) (1540,14.2) (1560,14.6) (1580,14.1) (1600,14.7) (1620,13.9) (1640,14.3) (1660,14.9) (1680,14.2) (1700,14.6) (1720,14.0) (1740,14.5) (1760,13.9) (1780,14.4) (1800,13.8) (1820,14.3) (1840,13.7) (1860,14.1) (1880,14.8) (1900,15.2) (1920,15.9) (1940,15.3) (1960,16.1) (1980,15.4) (2000,14.7) (2020,14.0) (2040,13.3) (2060,13.7) (2080,14.2) (2100,14.9) (2120,15.1) (2140,15.8) (2160,16.2) (2180,16.9) (2200,17.4) (2220,16.8) (2240,16.5) (2260,15.8) (2280,15.3) (2290,13.0) (2300,12.5) (2310,13.5) (2320,13.0)};
\addplot[gy] coordinates {(-45,16.2) (-25,16.9) (-5,16.5) (15,17.2) (35,16.8) (55,17.5) (75,17.1) (95,17.8) (115,17.4) (135,18.1) (155,17.7) (175,18.4) (195,18.0) (215,18.7) (235,18.3) (255,19.0) (275,18.6) (295,19.3) (315,18.9) (335,19.6) (355,19.2) (375,19.9) (395,19.5) (415,20.2) (435,19.8) (455,20.5) (475,20.1) (495,20.8) (515,20.4) (535,21.0) (555,20.6) (575,21.1) (595,20.7) (615,21.2) (635,20.8) (655,21.3) (675,20.5) (695,20.8) (715,20.1) (735,20.4) (755,19.8) (775,20.1) (795,19.5) (815,19.9) (835,19.3) (855,19.7) (875,19.1) (895,19.6) (915,19.9) (935,19.3) (955,19.8) (975,19.2) (995,19.6) (1015,19.0) (1035,19.4) (1055,18.8) (1075,19.2) (1095,18.6) (1115,19.0) (1135,18.4) (1155,18.8) (1175,18.2) (1195,18.6) (1215,18.0) (1235,18.4) (1255,17.8) (1275,18.1) (1295,17.5) (1315,17.8) (1335,17.2) (1355,17.5) (1375,16.9) (1395,17.2) (1415,16.6) (1435,16.9) (1455,16.3) (1475,16.6) (1495,16.0) (1515,16.3) (1535,15.7) (1555,16.0) (1575,15.4) (1595,15.7) (1615,15.1) (1635,15.5) (1655,14.9) (1675,15.3) (1695,14.8) (1715,15.2) (1735,14.7) (1755,15.1) (1775,14.6) (1795,15.0) (1815,14.5) (1835,14.9) (1855,14.4) (1875,14.9) (1895,15.5) (1915,16.2) (1935,16.8) (1955,16.4) (1975,17.0) (1995,16.5) (2015,16.1) (2035,15.6) (2055,15.1) (2075,14.7) (2095,15.2) (2115,15.6) (2135,15.2) (2155,15.7) (2175,15.3) (2195,15.8) (2215,15.4) (2235,15.9) (2255,15.5) (2275,16.0) (2295,15.6) (2315,16.1)};
\addplot[lb] coordinates {(-60,19.5) (-50,21.5) (-45,18.0) (-40,19.8) (-30,20.3) (-20,19.9) (-10,20.5) (0,20.1) (10,20.6) (20,20.2) (30,20.7) (40,20.3) (50,20.5) (60,20.1) (70,20.4) (80,20.0) (90,20.3) (100,19.9) (120,20.2) (140,19.8) (160,20.1) (180,19.6) (200,19.9) (220,19.4) (240,19.8) (260,19.3) (280,19.7) (300,19.5) (320,20.0) (340,20.6) (360,20.9) (380,21.4) (400,21.1) (420,21.7) (440,21.3) (460,21.9) (480,21.5) (500,22.1) (520,21.6) (540,22.3) (560,21.8) (580,21.5) (600,21.9) (620,21.4) (640,21.8) (660,22.2) (680,21.6) (700,21.0) (720,20.5) (740,20.0) (760,19.6) (780,19.2) (800,18.8) (820,19.3) (840,19.0)};
\addplot[lb] coordinates {(-60,14.0) (-55,17.5) (-40,17.8) (-20,18.3) (0,17.9) (20,18.5) (40,18.1) (60,18.7) (80,18.3) (100,18.9) (120,18.5) (140,19.1) (160,18.6) (180,19.2) (200,18.7) (220,19.3) (240,18.8) (260,19.4) (280,18.9) (300,19.5) (320,19.1) (340,19.8) (360,20.4) (380,20.0) (400,20.6) (420,20.2) (440,20.8) (460,20.3) (480,20.0) (500,19.5) (520,19.0) (540,18.6) (560,18.9) (580,18.3) (600,17.8) (620,18.1) (640,17.5) (660,17.0) (680,17.4) (700,16.8) (720,16.3) (740,16.7) (760,16.0) (780,15.6) (800,16.0) (820,15.4) (840,15.8) (860,15.2) (870,15.6)};
\addplot[lb] coordinates {(-50,16.0) (-30,16.6) (-10,16.2) (10,16.8) (30,16.4) (50,17.0) (70,16.6) (90,17.2) (110,16.8) (130,17.4) (150,17.0) (170,17.6) (190,17.2) (210,17.8) (230,17.4) (250,18.0) (270,17.6) (290,18.2) (310,17.8) (330,18.4) (350,18.0) (370,18.6) (390,17.9) (410,17.4) (430,17.8) (450,17.2) (470,16.7) (490,17.1) (510,16.5) (530,16.9) (550,16.3) (570,15.8) (590,16.2) (610,15.6) (630,16.0) (650,15.4) (670,15.0) (690,15.4) (710,14.9) (730,15.3) (750,14.7) (770,15.1) (790,14.6) (810,15.0) (830,14.8)};
\addplot[db] coordinates {(825,18.9) (830,17.2) (835,18.7) (840,16.8) (845,18.5) (850,16.2) (855,18.2) (860,15.8) (865,18.0) (870,15.4) (875,17.6) (880,15.0) (885,17.4) (890,14.6) (895,17.0) (900,14.3) (905,16.8) (910,14.0) (915,16.6) (920,13.6) (925,16.3) (930,13.4) (935,16.2) (940,13.1) (945,16.0) (950,12.9) (955,15.8) (960,12.6) (965,15.9) (970,12.3) (975,15.5) (980,12.4) (985,15.2) (990,12.2) (995,15.6) (1000,12.5) (1005,15.0) (1010,12.3) (1015,14.8) (1020,12.0) (1025,15.3) (1030,11.8) (1035,14.6) (1040,11.5) (1045,15.0) (1050,11.7) (1055,14.4) (1060,11.4) (1065,14.8) (1070,11.6) (1075,14.2) (1080,11.3) (1085,14.6) (1090,11.4) (1095,14.0) (1100,11.1) (1105,15.2) (1110,10.9) (1115,14.4) (1120,11.0) (1125,16.8) (1130,10.8) (1135,15.0) (1140,10.6) (1145,14.5) (1150,10.7) (1155,13.8) (1160,10.4) (1165,13.5) (1170,10.2) (1175,12.9) (1180,10.3) (1185,14.6)};
\addplot[db] coordinates {(830,18.6) (840,17.9) (850,18.3) (860,17.5) (870,17.9) (880,17.2) (890,17.6) (900,16.9) (910,17.3) (920,16.6) (930,17.1) (940,16.4) (950,16.9) (960,16.2) (970,16.7) (980,16.0) (990,16.5) (1000,15.8) (1010,16.4) (1020,15.6) (1030,16.2) (1040,15.4) (1050,16.0) (1060,15.2) (1070,15.9) (1080,15.1) (1090,15.7) (1100,15.0) (1110,15.6) (1120,14.8) (1130,16.5) (1135,19.8) (1140,16.0) (1150,15.2) (1160,14.6) (1170,15.5) (1180,15.0)};
\addplot[lg] coordinates {(-75,18.9) (-70,19.6) (-60,20.0) (-50,19.8) (-40,20.3) (-30,19.5) (-20,20.1) (-10,19.4) (0,19.9) (10,19.2) (20,19.8) (30,19.0) (40,19.6) (50,18.8) (60,19.4) (70,18.6) (80,19.5) (90,20.8) (100,22.0) (107,23.7) (112,20.5) (118,16.0) (125,14.5) (133,13.5) (140,15.5) (150,18.0) (160,19.2) (170,19.8) (180,20.6) (189,21.6) (195,20.0) (205,18.2) (215,16.0) (222,14.2) (227,13.1) (232,15.5) (240,17.8)};
\addplot[lg] coordinates {(-60,19.2) (-40,19.7) (-20,19.0) (0,19.5) (20,18.8) (40,19.3) (60,18.6) (80,19.0) (100,18.4) (120,18.9) (140,18.2) (160,18.7) (180,18.0) (200,18.5)};
\addplot[mg] coordinates {(-15,19.9) (-5,20.4) (5,20.2) (15,20.5) (25,20.1) (35,20.4) (45,20.0) (55,20.4) (65,20.3) (75,20.6) (85,20.8) (95,20.3) (105,20.1) (115,19.9) (125,20.0) (135,19.8) (145,19.6) (155,19.7) (165,19.5) (175,19.3) (185,19.4) (195,19.1) (205,19.2) (215,18.9) (225,18.6) (235,18.8) (245,18.4) (255,18.0) (265,18.3) (275,17.8) (285,18.1) (295,17.6) (305,18.2) (315,17.9) (325,17.5) (335,18.0) (345,17.7) (355,18.2) (365,17.8) (375,18.3) (385,17.9) (395,18.2) (405,17.6) (415,18.0) (425,17.5) (435,18.1) (445,17.7) (455,18.3) (465,17.8) (475,18.2) (485,17.6) (495,18.0) (505,17.7) (515,18.4) (525,18.0) (535,18.9) (545,21.5) (550,19.0) (555,18.0)};
\addplot[pr] coordinates {(-45,17.6) (-40,16.6) (-30,16.4) (-20,16.9) (-10,16.7) (0,17.0) (10,16.8) (20,17.1) (30,16.9) (40,17.2) (50,16.9) (60,16.7) (70,17.0) (80,16.8) (90,16.6) (100,16.8) (110,16.5) (120,16.7) (130,16.6) (140,16.8) (150,16.5) (160,16.7) (170,16.6) (180,16.9) (190,17.1) (200,17.3) (210,17.6) (220,17.8) (230,18.1) (240,18.4) (250,18.6) (260,18.9) (270,19.1) (280,19.3) (290,19.2) (300,19.5) (310,19.4) (320,19.6) (330,19.5) (340,19.2) (350,19.3) (360,19.0) (370,19.2) (380,18.9) (390,19.0) (400,18.8) (410,19.1) (420,18.9) (430,19.2) (440,19.0) (450,19.3) (460,19.1) (470,19.4) (480,19.2) (490,19.6) (500,19.4) (510,20.0) (520,19.7) (530,20.3) (540,20.6) (550,20.2) (560,20.8) (570,20.5) (580,21.0) (590,20.7) (600,21.2) (610,20.9) (620,21.4) (630,21.1) (640,21.6) (650,21.3) (660,21.0) (670,20.7) (680,20.9) (690,20.4) (700,20.6) (710,20.1) (720,20.3) (730,19.9) (740,20.1) (750,19.7) (760,19.5) (770,19.2) (780,19.4) (790,19.0) (800,19.3) (810,19.6) (820,19.8) (830,19.5) (840,19.7) (850,19.4) (860,19.2) (870,19.4) (880,19.1) (890,19.3) (900,18.9) (910,19.1) (920,18.8) (930,18.9) (940,18.6) (950,18.8) (960,18.4) (970,18.6) (980,18.2) (990,18.0) (1000,17.7) (1010,17.9) (1020,17.5) (1030,17.3) (1040,17.5) (1050,17.1) (1060,16.8) (1070,17.0) (1080,16.6) (1090,16.8) (1100,16.3) (1110,16.5) (1120,16.1) (1130,16.6) (1140,17.0) (1150,16.4) (1160,16.0) (1170,16.3) (1180,15.9) (1190,16.5) (1200,16.2) (1210,15.8) (1220,16.4) (1230,17.3) (1240,16.6) (1250,16.0) (1260,16.9) (1270,17.4) (1280,16.5) (1290,15.9) (1300,16.8) (1310,17.5) (1320,16.7) (1330,16.1) (1340,17.2) (1350,17.6) (1360,16.6) (1370,16.2) (1380,17.0) (1390,16.4) (1400,15.9) (1410,16.8) (1420,17.5) (1430,16.7) (1440,16.3)};
\addplot[kg] coordinates {(-35,16.5) (-25,16.8) (-10,16.6) (0,16.9) (10,17.1) (20,16.9) (30,17.2) (40,17.0) (50,17.1) (60,16.9) (70,17.1) (80,16.8) (90,16.9) (100,16.6) (110,16.8) (120,16.5) (130,16.7) (140,16.5) (150,16.6) (160,16.5) (170,16.7) (180,16.6) (190,16.8) (200,16.7) (210,16.9) (220,17.2) (230,17.3) (240,17.6) (250,17.8) (260,18.0) (270,18.1) (280,18.3) (290,18.2) (300,18.5) (310,18.6) (320,18.9) (330,19.0) (340,18.8) (350,19.2) (360,19.0) (380,19.1) (390,19.3) (405,19.0) (420,19.1)};
\redline
\end{axis}
\begin{axis}[toplab, at={(450pt,-446pt)}]
\end{axis}
% ================= labels & legend =================
\node[rotate=90, font=\bfseries\fontsize{10.4}{12}\selectfont] at (10pt,-255pt) {Temperature (C)};
\node[font=\bfseries\fontsize{10.4}{12}\selectfont] at (348.5pt,-477.5pt) {Distance from Paimiut (km)};
\begin{scope}[every node/.style={anchor=base west, inner sep=0pt, font=\fontsize{10}{12}\selectfont}]
\node at (86pt,-13pt) {Lower Yukon};
\node at (86pt,-23.3pt) {Koyukuk};
\node at (215.5pt,-13pt) {Middle Yukon};
\node at (215.5pt,-23.3pt) {Yukon Flats};
\node at (348.5pt,-13pt) {Porcupine};
\node at (348.5pt,-23.3pt) {Upper Yukon};
\node at (478.5pt,-13pt) {Tanana};
\node at (478.5pt,-23.3pt) {Tanana (Main River)};
\end{scope}
\draw[lowyukon, line width=2pt] (156pt,-9pt) -- (186pt,-9pt);
\draw[koyukuk, line width=2pt] (156pt,-19.2pt) -- (186pt,-19.2pt);
\draw[midyukon, line width=2pt] (287.5pt,-9pt) -- (318.5pt,-9pt);
\draw[yflats, line width=2pt] (287.5pt,-19.2pt) -- (318.5pt,-19.2pt);
\draw[porc, line width=2pt] (418.5pt,-9pt) -- (448.5pt,-9pt);
\draw[upyukon, line width=2pt] (418.5pt,-19.2pt) -- (448.5pt,-19.2pt);
\draw[tanana, line width=2pt] (583.5pt,-9pt) -- (613.5pt,-9pt);
\draw[tanmain, line width=2pt] (583.5pt,-19.2pt) -- (613.5pt,-19.2pt);
\end{tikzpicture}
\end{document}
